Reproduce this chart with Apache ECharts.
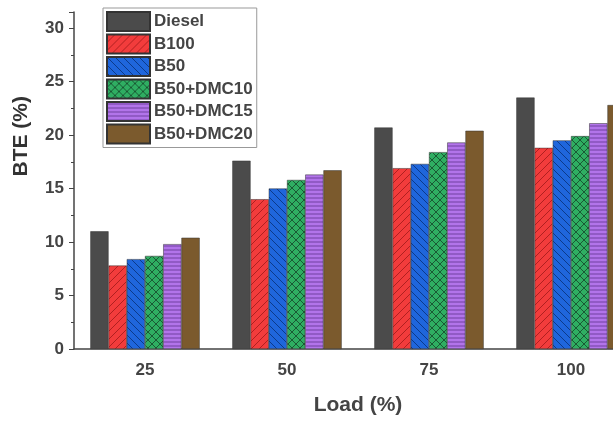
<!DOCTYPE html>
<html>
<head>
<meta charset="utf-8">
<script src="https://cdn.jsdelivr.net/npm/echarts@6/dist/echarts.min.js"></script>
<style>
html, body { margin: 0; padding: 0; background: #fff; overflow: hidden; width: 613px; height: 421px; }
#main { width: 650px; height: 421px; }
</style>
</head>
<body>
<div id="main"></div>
<script>
// 数据
var loads = ['25', '50', '75', '100'];
var fuels = ['Diesel', 'B100', 'B50', 'B50+DMC10', 'B50+DMC15', 'B50+DMC20'];
var diesel = [11.0, 17.6, 20.7, 23.5];
var b100 = [7.8, 14.0, 16.9, 18.8];
var b50 = [8.4, 15.0, 17.3, 19.5];
var dmc10 = [8.7, 15.8, 18.4, 19.9];
var dmc15 = [9.8, 16.3, 19.3, 21.1];
var dmc20 = [10.4, 16.7, 20.4, 22.8];

// 填充图案
function makePattern(bg, fg, type) {
    var c = document.createElement('canvas');
    c.width = 8; c.height = 8;
    var ctx = c.getContext('2d');
    ctx.fillStyle = bg;
    ctx.fillRect(0, 0, 8, 8);
    ctx.strokeStyle = fg;
    ctx.lineWidth = 1;
    ctx.beginPath();
    if (type === 'fwd') {
        ctx.moveTo(0, 8); ctx.lineTo(8, 0);
        ctx.moveTo(-4, 4); ctx.lineTo(4, -4);
        ctx.moveTo(4, 12); ctx.lineTo(12, 4);
    } else if (type === 'back') {
        ctx.moveTo(0, 0); ctx.lineTo(8, 8);
        ctx.moveTo(-4, 4); ctx.lineTo(4, 12);
        ctx.moveTo(4, -4); ctx.lineTo(12, 4);
    } else if (type === 'cross') {
        ctx.moveTo(0, 8); ctx.lineTo(8, 0);
        ctx.moveTo(0, 0); ctx.lineTo(8, 8);
    } else if (type === 'horiz') {
        ctx.moveTo(0, 2); ctx.lineTo(8, 2);
        ctx.moveTo(0, 6); ctx.lineTo(8, 6);
    }
    ctx.stroke();
    return { image: c, repeat: 'repeat' };
}

var fills = [
    '#4b4b4b',
    makePattern('#f23c3c', '#b02020', 'fwd'),
    makePattern('#1f66dc', '#0c3a8a', 'back'),
    makePattern('#2fae62', '#1a5a34', 'cross'),
    makePattern('#b274ea', '#7040a0', 'horiz'),
    '#7b5a2d'
];
var values = [diesel, b100, b50, dmc10, dmc15, dmc20];

var series = fuels.map(function (name, i) {
    return {
        name: name,
        type: 'bar',
        data: values[i],
        barGap: '0%',
        barCategoryGap: '23%',
        itemStyle: { color: fills[i], borderColor: '#333', borderWidth: 0.5 }
    };
});

var myChart = echarts.init(document.getElementById('main'));
myChart.setOption({
    animation: false,
    textStyle: { fontFamily: 'Liberation Sans, Arial, sans-serif' },
    legend: {
        data: fuels,
        icon: 'rect',
        orient: 'vertical',
        left: 103,
        top: 8,
        itemWidth: 43,
        itemHeight: 19,
        itemGap: 1.5,
        padding: [3, 4, 3, 3],
        borderColor: '#999',
        borderWidth: 1,
        textStyle: { fontSize: 17, fontWeight: 'bold', color: '#444', padding: [0, 0, 0, -1] }
    },
    // y 轴标题放在上半部分
    graphic: [{
        type: 'text',
        left: 11,
        top: 96,
        rotation: Math.PI / 2,
        style: { text: 'BTE (%)', fontSize: 21, fontWeight: 'bold', fill: '#333',
                 fontFamily: 'Liberation Sans, Arial, sans-serif' }
    }],
    grid: { left: 74, right: 8, top: 12, bottom: 71, containLabel: false },
    xAxis: {
        type: 'category',
        data: loads,
        name: 'Load (%)',
        nameLocation: 'middle',
        nameGap: 46,
        nameTextStyle: { fontSize: 21, fontWeight: 'bold', color: '#444' },
        axisLine: { lineStyle: { color: '#444', width: 1.5 } },
        axisTick: { alignWithLabel: true, length: 5, lineStyle: { color: '#444' } },
        axisLabel: { fontSize: 17, fontWeight: 'bold', color: '#444', margin: 13 }
    },
    yAxis: {
        type: 'value',
        min: 0,
        max: 31.5,
        interval: 5,
        splitLine: { show: false },
        axisLine: { show: true, lineStyle: { color: '#444', width: 1.5 } },
        axisTick: { show: true, length: 5, lineStyle: { color: '#444' } },
        minorTick: { show: true, splitNumber: 2, length: 3, lineStyle: { color: '#444' } },
        axisLabel: { fontSize: 17, fontWeight: 'bold', color: '#444', margin: 10, showMaxLabel: false }
    },
    series: series
});
</script>
</body>
</html>
